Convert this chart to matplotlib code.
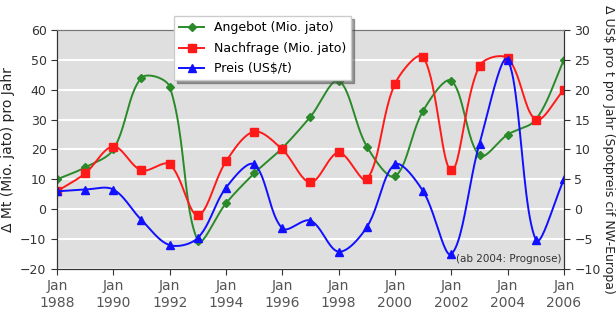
import numpy as np
import matplotlib
matplotlib.use("Agg")
import matplotlib.pyplot as plt

# Jahre (jeweils Januar)
jahre = list(range(1988, 2007))
angebot = [10, 14, 20, 44, 41, -10.5, 2, 12, 20.5, 31, 43, 21, 11, 33, 43, 18, 25, 30, 50]
nachfrage = [6, 12, 21, 13, 15, -2, 16, 26, 20, 9, 19, 10, 42, 51, 13, 48, 50.5, 30, 40]
preis = [3, 3.3, 3.3, -1.8, -6, -4.8, 3.6, 7.5, -3.2, -1.9, -7.1, -3, 7.5, 3, -7.5, 11, 25, -5.1, 5]
xlabels = ["Jan\n%d" % j for j in range(1988, 2007, 2)]


def glatt(x, y, sy, sx=28.2, n=24):
    # geglaettete Linie wie in Excel, Abstaende in Pixeln gerechnet
    P = np.column_stack([np.asarray(x, float) * sx, np.asarray(y, float) * sy])
    Q = np.vstack([P[0], P, P[-1]])
    pts = []
    t = np.linspace(0, 1, n, endpoint=False)[:, None]
    for i in range(1, len(Q) - 2):
        p0, p1, p2, p3 = Q[i - 1], Q[i], Q[i + 1], Q[i + 2]
        d01 = np.hypot(*(p1 - p0))
        d12 = np.hypot(*(p2 - p1))
        d23 = np.hypot(*(p3 - p2))
        c1 = p1 + (p2 - p0) * d12 / (d01 + d12) / 3
        c2 = p2 - (p3 - p1) * d12 / (d12 + d23) / 3
        pts.append((1 - t) ** 3 * p1 + 3 * (1 - t) ** 2 * t * c1
                   + 3 * (1 - t) * t ** 2 * c2 + t ** 3 * p2)
    pts.append(P[-1:])
    pts = np.vstack(pts)
    return pts[:, 0] / sx, pts[:, 1] / sy, list(range(0, len(pts), n))


fig = plt.figure(figsize=(6.16, 3.2), dpi=100)
ax = fig.add_axes([0.0925, 0.1594, 0.8231, 0.7469])
ax.set_facecolor("#dfdfdf")
ax2 = ax.twinx()

gx, gy, gm = glatt(jahre, angebot, 2.98)
l1, = ax.plot(gx, gy, color="#2a8a2a", lw=1.4, marker="D", ms=4, markevery=gm,
              label="Angebot (Mio. jato)")
rx, ry, rm = glatt(jahre, nachfrage, 2.98)
l2, = ax.plot(rx, ry, color="#ff1a1a", lw=1.4, marker="s", ms=5.5, markevery=rm,
              label="Nachfrage (Mio. jato)")
bx, by, bm = glatt(jahre, preis, 5.97)
l3, = ax2.plot(bx, by, color="#1010ff", lw=1.4, marker="^", ms=5.5, markevery=bm,
               label="Preis (US$/t)")

ax.set_xlim(1988, 2006)
ax.set_ylim(-20, 60)
ax2.set_ylim(-10, 30)
ax.set_yticks(range(-20, 61, 10))
ax2.set_yticks(range(-10, 31, 5))
ax.set_xticks(range(1988, 2007, 2))
ax.set_xticklabels(xlabels)
ax.grid(axis="y", color="white", lw=1.5)
ax.set_axisbelow(True)

for a in (ax, ax2):
    for s in ("left", "right", "bottom"):
        a.spines[s].set_color("#333333")
    a.spines["top"].set_color("#777777")
ax.tick_params(axis="x", labelsize=10, labelcolor="#555555", length=4, color="#333333")
ax.tick_params(axis="y", labelsize=9, labelcolor="#333333", length=4, color="#333333")
ax2.tick_params(axis="y", labelsize=9, labelcolor="#333333", length=4, color="#333333")

ax.set_ylabel("\u0394 Mt (Mio. jato) pro Jahr", fontsize=10, color="#222222", labelpad=4)
ax2.set_ylabel("\u0394 US$ pro t pro Jahr (Spotpreis cif NW-Europa)", fontsize=9,
               color="#222222", rotation=270, labelpad=10)

ax.text(0.995, 0.02, "(ab 2004: Prognose)", transform=ax.transAxes, ha="right",
        va="bottom", fontsize=7.5, color="#333333")

fig.legend(handles=[l1, l2, l3], loc="upper left", bbox_to_anchor=(0.2727, 0.968),
           fontsize=9, frameon=True, fancybox=False, shadow=True, edgecolor="#cccccc",
           framealpha=1, borderpad=0.4, labelspacing=0.6, handlelength=2)

fig.savefig("out.png", dpi=100)
